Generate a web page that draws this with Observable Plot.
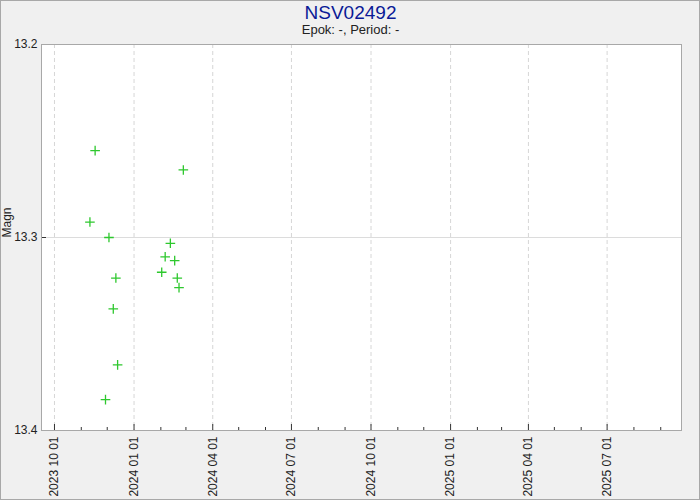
<!DOCTYPE html>
<html>
<head>
<meta charset="utf-8">
<script src="https://cdn.jsdelivr.net/npm/d3@7"></script>
<script src="https://cdn.jsdelivr.net/npm/@observablehq/plot@0.6"></script>
<style>
  html, body { margin: 0; padding: 0; background: #f0f0f0; }
  #chart svg { display: block; background: #f0f0f0; outline: 1px solid #a8a8a8; outline-offset: -1px; }
</style>
</head>
<body>
<div id="chart"></div>
<script>
const title = "NSV02492";
const subtitle = "Epok: -, Period: -";
const yLabel = "Magn";

const obsDates = ["2023-11-17","2024-02-27","2023-11-11","2023-12-03","2024-02-12","2024-02-06","2024-02-17","2024-02-02","2023-12-11","2024-02-20","2024-02-22","2023-12-08","2023-12-13","2023-11-29"];
const obsMags  = [13.255, 13.265, 13.292, 13.300, 13.303, 13.310, 13.312, 13.318, 13.321, 13.321, 13.326, 13.337, 13.366, 13.384];

const xDomain = ["2023-09-16", "2025-09-25"];
const yDomain = [13.2, 13.4];
const yTicks = [13.2, 13.3, 13.4];
const yGrid = [13.3];
const majorTickDates = ["2023-10-01","2024-01-01","2024-04-01","2024-07-01","2024-10-01","2025-01-01","2025-04-01","2025-07-01"];

const parse = d3.utcParse("%Y-%m-%d");
const data = obsDates.map((d, i) => ({date: parse(d), mag: obsMags[i]}));
const majors = majorTickDates.map(parse);
const minors = d3.utcMonth.range(parse(xDomain[0]), parse(xDomain[1])).filter(d => !majors.some(m => +m === +d));

const plot = Plot.plot({
  width: 700,
  height: 500,
  marginLeft: 41,
  marginRight: 19,
  marginTop: 44,
  marginBottom: 70,
  style: {fontFamily: "'Liberation Sans', Arial, sans-serif", fontSize: "12px", color: "#222", background: "#f0f0f0"},
  x: {type: "utc", domain: xDomain.map(parse)},
  y: {domain: yDomain, reverse: true},
  marks: [
    Plot.frame({fill: "white", stroke: "none"}),
    Plot.ruleX(majors, {stroke: "#d6d6d6", strokeDasharray: "4,3"}),
    Plot.ruleY(yGrid, {stroke: "#dcdcdc"}),
    Plot.tickX(majors, {x: d => d, stroke: "#333", insetTop: 380}),
    Plot.tickX(minors, {x: d => d, stroke: "#333", insetTop: 383}),
    Plot.tickY(yGrid, {y: d => d, stroke: "#333", insetRight: 635}),
    Plot.frame({stroke: "#a8a8a8"}),
    Plot.dot(data, {x: "date", y: "mag", symbol: "plus", r: 3.2, stroke: "#2ec82e", strokeWidth: 1.3}),
    Plot.axisX({ticks: majors, tickSize: 0, tickPadding: 6, tickRotate: -90, tickFormat: d3.utcFormat("%Y %m %d"), label: null, fill: "#222"}),
    Plot.axisY({ticks: yTicks, tickSize: 0, tickPadding: 4, tickFormat: d => d.toFixed(1), label: null, fill: "#222"}),
    Plot.text([yLabel], {frameAnchor: "left", dx: -34, rotate: -90, text: d => d, fontSize: 12, fill: "#222"}),
    Plot.text([title], {frameAnchor: "top", lineAnchor: "middle", dx: -11, dy: -32, text: d => d, fontSize: 19, fill: "#0a1a96"}),
    Plot.text([subtitle], {frameAnchor: "top", lineAnchor: "middle", dx: -11, dy: -15, text: d => d, fontSize: 13, fill: "#222"})
  ]
});
document.getElementById("chart").appendChild(plot);
</script>
</body>
</html>
